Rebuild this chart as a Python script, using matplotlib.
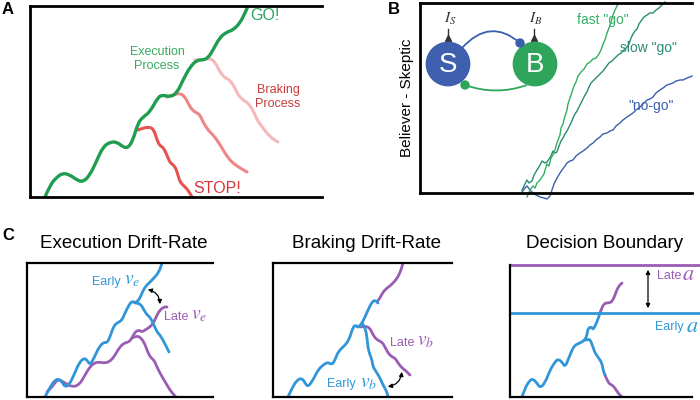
import matplotlib.pyplot as plt
from matplotlib.patches import Circle, FancyArrowPatch, PathPatch
from matplotlib.path import Path

plt.rcParams['font.family'] = ['Liberation Sans', 'DejaVu Sans']
plt.rcParams['mathtext.fontset'] = 'stix'

# ---------- panel A : execution vs braking process ----------
go_t = [15, 20, 27, 33, 40, 47, 53, 60, 67, 73, 80, 87, 93, 98, 103, 108, 113, 120, 128, 133,
        140, 147, 153, 160, 167, 173, 178, 183, 190, 197, 203, 210, 215, 218]
go_v = [0, 12, 20, 24, 22, 17, 15, 22, 37, 50, 55, 55, 50, 49, 57, 74, 80, 85, 100, 102,
        100, 104, 117, 130, 137, 137, 139, 147, 160, 165, 167, 174, 184, 191]

stop1_t = [108, 113, 120, 124, 127, 130, 133, 137, 140, 145, 148, 150, 154, 158, 162]
stop1_v = [67, 69, 70, 67, 57, 51, 50, 42, 34, 31, 22, 15, 11, 7, 0]
stop2_t = [137, 143, 150, 155, 158, 162, 167, 170, 173, 178, 183, 187, 192, 198, 205, 217]
stop2_v = [100, 102, 104, 100, 94, 87, 84, 82, 75, 67, 62, 57, 49, 39, 32, 25]
stop3_t = [165, 172, 180, 185, 190, 195, 200, 205, 208, 213, 218, 223, 227, 233, 240, 248]
stop3_v = [137, 137, 139, 135, 125, 119, 117, 109, 102, 97, 94, 87, 77, 69, 60, 55]

# ---------- panel B : believer - skeptic traces ----------
fast_t = [107, 110, 113, 115, 117, 120, 122, 124, 125, 127, 129, 131, 133, 135, 136, 138, 140, 141,
          143, 145, 147, 148, 150, 152, 154, 156, 158, 161, 164, 167, 170, 173, 176, 179, 181, 183,
          185, 187, 189, 191, 193, 195, 198]
fast_v = [-4, 3, 7, 5, 10, 13, 16, 19, 23, 29, 27, 35, 38, 43, 47, 53, 58, 65,
          69, 77, 83, 89, 95, 101, 107, 111, 117, 121, 124, 129, 131, 134, 135, 139, 143, 149,
          153, 160, 165, 171, 178, 183, 189]
slow_t = [102, 105, 107, 109, 112, 114, 117, 120, 122, 125, 127, 129, 131, 133, 135, 137, 139, 141,
          143, 145, 147, 149, 151, 153, 155, 157, 159, 161, 163, 165, 167, 169, 171, 174, 177, 180,
          183, 186, 189, 192, 195, 198, 201, 204, 207, 209, 211, 213, 215, 217, 219, 221, 224, 227,
          230, 233, 236, 239, 242, 245]
slow_v = [3, 9, 13, 10, 12, 18, 23, 28, 32, 30, 31, 34, 37, 42, 40, 41, 47, 52,
          55, 59, 62, 66, 70, 75, 79, 82, 86, 90, 94, 98, 101, 106, 110, 113, 116, 119,
          122, 126, 130, 132, 135, 138, 140, 143, 146, 149, 155, 159, 162, 164, 169, 172, 176, 178,
          180, 180, 183, 185, 188, 191]
nogo_t = [102, 105, 107, 110, 113, 116, 120, 124, 127, 130, 132, 134, 137, 140, 142, 145, 147, 150,
          153, 156, 160, 163, 167, 170, 173, 176, 180, 183, 187, 190, 193, 196, 200, 203, 207, 210,
          213, 216, 220, 223, 227, 230, 233, 236, 240, 243, 247, 250, 253, 256, 260, 263, 267, 270, 272]
nogo_v = [1, 5, 7, 3, 0, -2, -4, -5, -6, -3, 3, 9, 15, 20, 23, 27, 30, 32,
          33, 37, 40, 42, 45, 48, 50, 53, 56, 59, 60, 62, 63, 67, 70, 73, 76, 78,
          80, 83, 86, 89, 93, 94, 96, 100, 103, 105, 108, 109, 110, 112, 113, 113, 115, 116, 117]

# ---------- panel C1 : execution drift-rate ----------
c1_early_t = [18, 23, 28, 32, 35, 38, 42, 47, 52, 57, 60, 63, 67, 72, 77, 80, 83, 87, 92, 95,
              98, 102, 105, 108, 112, 115, 118, 123, 127, 132, 135]
c1_early_v = [0, 10, 17, 18, 15, 10, 12, 22, 34, 39, 37, 32, 39, 50, 55, 54, 60, 72, 75, 77,
              84, 92, 96, 94, 97, 104, 110, 115, 119, 125, 134]
c1_early_dn_t = [108, 113, 117, 120, 123, 127, 130, 133, 137, 140, 142]
c1_early_dn_v = [94, 94, 87, 82, 80, 72, 65, 62, 55, 49, 45]
c1_late_t = [20, 25, 30, 33, 38, 45, 52, 57, 62, 67, 72, 77, 82, 87, 92, 97, 102, 105, 108, 112,
             115, 118, 123, 127, 130, 133, 137, 140]
c1_late_v = [5, 10, 17, 17, 14, 10, 12, 20, 29, 34, 35, 34, 35, 40, 49, 54, 55, 59, 65, 67,
             65, 67, 70, 75, 82, 87, 90, 90]
c1_late_dn_t = [105, 109, 113, 117, 120, 123, 127, 130, 133, 137, 140, 143, 147, 149]
c1_late_dn_v = [59, 61, 60, 55, 47, 40, 37, 30, 24, 17, 12, 7, 2, 0]

# ---------- panel C2 : braking drift-rate ----------
c2_go_t = [15, 19, 24, 29, 32, 35, 40, 45, 50, 55, 59, 62, 65, 70, 74, 77, 80, 83, 85, 89,
           92, 95, 99, 102, 105]
c2_go_v = [0, 9, 17, 19, 14, 10, 17, 27, 32, 35, 32, 37, 45, 50, 54, 60, 70, 72, 69, 74,
           80, 87, 95, 97, 94]
c2_go_up_t = [104, 107, 110, 114, 117, 121, 125, 128, 130]
c2_go_up_v = [95, 99, 105, 109, 111, 115, 120, 127, 134]
c2_early_t = [89, 92, 94, 95, 97, 99, 100, 104, 107, 110, 114, 115]
c2_early_v = [74, 70, 60, 49, 42, 37, 30, 24, 19, 12, 5, 0]
c2_late_t = [87, 92, 97, 100, 104, 109, 112, 115, 119, 122, 125, 129, 132, 137]
c2_late_v = [70, 71, 69, 62, 57, 55, 50, 44, 40, 39, 34, 29, 27, 22]

# ---------- panel C3 : decision boundary ----------
c3_go_t = [12, 15, 20, 23, 27, 30, 35, 40, 45, 48, 52, 55, 58, 62, 65, 70, 75, 77, 78, 82, 83, 87, 90]
c3_go_v = [0, 9, 17, 18, 14, 9, 14, 27, 35, 38, 35, 30, 37, 47, 52, 54, 57, 62, 69, 70, 67, 75, 84]
c3_late_t = [90, 92, 95, 98, 102, 105, 108, 112]
c3_late_v = [84, 90, 94, 94, 95, 102, 110, 114]
c3_dn_t = [75, 77, 80, 83, 85, 88, 92, 93, 95]
c3_dn_v = [57, 57, 58, 50, 44, 40, 34, 27, 22]
c3_dn2_t = [95, 98, 102, 105, 108, 112]
c3_dn2_v = [22, 14, 12, 9, 4, 0]
bound_early = 84
bound_late = 132

GREEN = '#1f9e50'
BLUE_C = '#3196d8'
PURPLE = '#9a5db4'

fig = plt.figure(figsize=(7, 4), dpi=100)


def px(x0, y0, x1, y1):
    return [x0 / 700, 1 - y1 / 400, (x1 - x0) / 700, (y1 - y0) / 400]


def box(rect, w, h, lw=2.0):
    ax = fig.add_axes(px(*rect))
    ax.set_xlim(0, w)
    ax.set_ylim(0, h)
    ax.set_xticks([])
    ax.set_yticks([])
    ax.spines['right'].set_visible(False)
    for s in ['left', 'top', 'bottom']:
        ax.spines[s].set_linewidth(lw)
    ax.patch.set_alpha(0)
    return ax


def wavy(ax, t, v, color, lw):
    # smooth line through the read points (points act as quadratic bezier controls)
    pts = list(zip(t, v))
    verts = [pts[0]]
    codes = [Path.MOVETO]
    for i in range(1, len(pts) - 1):
        mid = ((pts[i][0] + pts[i + 1][0]) / 2, (pts[i][1] + pts[i + 1][1]) / 2)
        verts += [pts[i], mid]
        codes += [Path.CURVE3, Path.CURVE3]
    verts.append(pts[-1])
    codes.append(Path.LINETO)
    ax.add_patch(PathPatch(Path(verts, codes), fc='none', ec=color, lw=lw,
                           capstyle='round', joinstyle='round'))


# A
axA = box((30, 6, 322, 197), 292, 191)
wavy(axA, stop3_t, stop3_v, '#f6b9b9', 2.2)
wavy(axA, stop2_t, stop2_v, '#ee8686', 2.2)
wavy(axA, stop1_t, stop1_v, '#e8524f', 2.2)
wavy(axA, go_t, go_v, GREEN, 2.4)
axA.text(220, 181, 'GO!', color='#2aa55a', fontsize=11.5, va='center')
axA.text(127, 138, 'Execution\nProcess', color='#3aaa5e', fontsize=9, ha='center', va='center')
axA.text(248, 100, 'Braking\nProcess', color='#c83c3c', fontsize=9, ha='center', va='center')
axA.text(163, 8, 'STOP!', color='#d8343a', fontsize=11.5, va='center')

# B
axB = box((420, 3, 692, 193), 272, 190)
axB.plot(nogo_t, nogo_v, color='#3a5fae', lw=1.0, clip_on=False)
axB.plot(slow_t, slow_v, color='#2a8a75', lw=1.0, clip_on=False)
axB.plot(fast_t, fast_v, color='#2fb060', lw=1.0, clip_on=False)
axB.text(183, 173, 'fast "go"', color='#36b066', fontsize=10, ha='center', va='center')
axB.text(228, 145, 'slow "go"', color='#2a8a75', fontsize=10, ha='center', va='center')
axB.text(231, 87, '"no-go"', color='#3a5fae', fontsize=10, ha='center', va='center')
axB.set_ylabel('Believer - Skeptic', fontsize=11, labelpad=4)

S_xy, B_xy, rad = (28, 129), (115, 129), 21.7
arcS = Path([(42, 145), (70, 176), (100, 150)], [Path.MOVETO, Path.CURVE3, Path.CURVE3])
arcB = Path([(107, 108), (76, 97), (45, 108)], [Path.MOVETO, Path.CURVE3, Path.CURVE3])
axB.add_patch(PathPatch(arcS, fc='none', ec='#3a5fae', lw=1.3))
axB.add_patch(PathPatch(arcB, fc='none', ec='#2ea55a', lw=1.3))
axB.add_patch(Circle(S_xy, rad, color='#3d5fae', zorder=3))
axB.add_patch(Circle(B_xy, rad, color='#2ea55a', zorder=3))
axB.add_patch(Circle((100, 150), 4, color='#3a5fae', zorder=4))
axB.add_patch(Circle((45, 108), 4, color='#2ea55a', zorder=4))
axB.text(S_xy[0], S_xy[1] - 1, 'S', color='white', fontsize=20, ha='center', va='center', zorder=5)
axB.text(B_xy[0], B_xy[1] - 1, 'B', color='white', fontsize=20, ha='center', va='center', zorder=5)
for xi, lab in [(28, '$I_S$'), (114, '$I_B$')]:
    axB.plot([xi, xi], [164, 154], color='#333333', lw=1)
    axB.plot([xi], [155], marker='^', ms=5, color='#333333')
    axB.text(xi + 2, 174, lab, fontsize=11, ha='center', va='center', color='#333333')

# C1
ax1 = box((27, 263, 213, 397), 186, 134, lw=1.6)
wavy(ax1, c1_late_dn_t, c1_late_dn_v, PURPLE, 2)
wavy(ax1, c1_late_t, c1_late_v, PURPLE, 2)
wavy(ax1, c1_early_dn_t, c1_early_dn_v, BLUE_C, 2)
wavy(ax1, c1_early_t, c1_early_v, BLUE_C, 2)
ax1.add_patch(FancyArrowPatch((118, 108), (133, 90), arrowstyle='<|-|>', mutation_scale=6,
                              connectionstyle='arc3,rad=-0.45', color='black', lw=0.9))
ax1.text(65, 115, 'Early', color=BLUE_C, fontsize=9, va='center')
ax1.text(97, 116, '$v_e$', color=BLUE_C, fontsize=14, va='center')
ax1.text(137, 80, 'Late', color=PURPLE, fontsize=9, va='center')
ax1.text(164, 81, '$v_e$', color=PURPLE, fontsize=14, va='center')

# C2
ax2 = box((273, 263, 452, 397), 179, 134, lw=1.6)
wavy(ax2, c2_go_up_t, c2_go_up_v, PURPLE, 2)
wavy(ax2, c2_late_t, c2_late_v, PURPLE, 2)
wavy(ax2, c2_early_t, c2_early_v, BLUE_C, 2)
wavy(ax2, c2_go_t, c2_go_v, BLUE_C, 2)
ax2.add_patch(FancyArrowPatch((112, 10), (129, 28), arrowstyle='<|-|>', mutation_scale=6,
                              connectionstyle='arc3,rad=0.45', color='black', lw=0.9))
ax2.text(117, 54, 'Late', color=PURPLE, fontsize=9, va='center')
ax2.text(144, 55, '$v_b$', color=PURPLE, fontsize=14, va='center')
ax2.text(54, 13, 'Early', color=BLUE_C, fontsize=9, va='center')
ax2.text(87, 14, '$v_b$', color=BLUE_C, fontsize=14, va='center')

# C3
ax3 = box((510, 265, 692, 397), 182, 132, lw=1.6)
ax3.spines['top'].set_visible(False)
ax3.plot([0, 189], [bound_late, bound_late], color=PURPLE, lw=2, clip_on=False)
ax3.plot([0, 189], [bound_early, bound_early], color=BLUE_C, lw=2, clip_on=False)
wavy(ax3, c3_late_t, c3_late_v, PURPLE, 2)
wavy(ax3, c3_dn2_t, c3_dn2_v, PURPLE, 2)
wavy(ax3, c3_dn_t, c3_dn_v, BLUE_C, 2)
wavy(ax3, c3_go_t, c3_go_v, BLUE_C, 2)
ax3.add_patch(FancyArrowPatch((138, bound_late - 2), (138, bound_early + 2), arrowstyle='<|-|>',
                              mutation_scale=6, color='black', lw=0.9))
ax3.text(147, 121, 'Late', color=PURPLE, fontsize=9, va='center')
ax3.text(172, 122, '$a$', color=PURPLE, fontsize=16, va='center')
ax3.text(145, 70, 'Early', color=BLUE_C, fontsize=9, va='center')
ax3.text(176, 71, '$a$', color=BLUE_C, fontsize=16, va='center')

# titles and panel letters
fig.text(124 / 700, 1 - 243 / 400, 'Execution Drift-Rate', fontsize=13.5, ha='center', va='center')
fig.text(367 / 700, 1 - 243 / 400, 'Braking Drift-Rate', fontsize=13.5, ha='center', va='center')
fig.text(605 / 700, 1 - 243 / 400, 'Decision Boundary', fontsize=13.5, ha='center', va='center')
fig.text(2 / 700, 1 - 10 / 400, 'A', fontsize=12, fontweight='bold', va='center')
fig.text(388 / 700, 1 - 9 / 400, 'B', fontsize=12, fontweight='bold', va='center')
fig.text(2 / 700, 1 - 235 / 400, 'C', fontsize=12, fontweight='bold', va='center')

fig.savefig('out.png', dpi=100)
